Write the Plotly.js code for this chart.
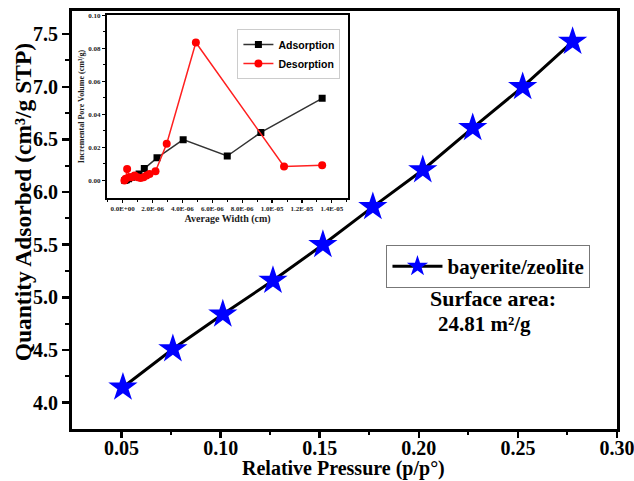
<!DOCTYPE html>
<html>
<head>
<meta charset="utf-8">
<script src="https://cdn.plot.ly/plotly-3.0.1.min.js"></script>
<style>html,body{margin:0;padding:0;background:#fff;}#chart{width:634px;height:481px;}</style>
</head>
<body>
<div id="chart"></div>
<script>
// Main BET data
const relPressure = [0.0507, 0.0759, 0.1011, 0.1264, 0.1516, 0.1768, 0.2020, 0.2272, 0.2524, 0.2776];
const qtyAdsorbed = [4.146, 4.51, 4.84, 5.16, 5.50, 5.86, 6.21, 6.61, 7.00, 7.43];
const mainSeriesName = 'bayerite/zeolite';
const mainXTicks = [0.05, 0.10, 0.15, 0.20, 0.25, 0.30];
const mainXTickText = ['0.05', '0.10', '0.15', '0.20', '0.25', '0.30'];
const mainYTicks = [4.0, 4.5, 5.0, 5.5, 6.0, 6.5, 7.0, 7.5];
const mainYTickText = ['4.0', '4.5', '5.0', '5.5', '6.0', '6.5', '7.0', '7.5'];

// Inset pore size distribution
const adsWidth = [0.15e-6, 0.25e-6, 0.4e-6, 0.6e-6, 0.9e-6, 1.1e-6, 1.45e-6, 2.3e-6, 4.05e-6, 7.0e-6, 9.25e-6, 13.35e-6];
const adsVolume = [0.000, 0.0005, 0.001, 0.002, 0.003, 0.004, 0.0072, 0.0137, 0.0247, 0.0148, 0.0291, 0.0497];
const desWidth = [0.12e-6, 0.2e-6, 0.3e-6, 0.45e-6, 0.6e-6, 0.8e-6, 1.0e-6, 1.2e-6, 1.4e-6, 1.6e-6, 1.8e-6, 2.2e-6, 2.95e-6, 4.9e-6, 10.8e-6, 13.35e-6];
const desVolume = [0.000, 0.001, 0.007, 0.002, 0.002, 0.003, 0.002, 0.0015, 0.002, 0.003, 0.004, 0.0056, 0.0222, 0.0835, 0.0085, 0.0092];

const insetXTickVals = [0, 2e-6, 4e-6, 6e-6, 8e-6, 1e-5, 1.2e-5, 1.4e-5];
const insetXTickText = ['0.0E+00', '2.0E-06', '4.0E-06', '6.0E-06', '8.0E-06', '1.0E-05', '1.2E-05', '1.4E-05'];
const insetYTickVals = [0, 0.02, 0.04, 0.06, 0.08, 0.10];
const insetYTickText = ['0.00', '0.02', '0.04', '0.06', '0.08', '0.10'];

const serif = 'Liberation Serif';
const sans = 'Liberation Sans';

const traces = [
  {
    x: relPressure, y: qtyAdsorbed, name: mainSeriesName, type: 'scatter', mode: 'lines+markers',
    line: {color: '#000', width: 3},
    marker: {symbol: 'star', size: 22, color: '#0000ff', line: {width: 0}},
    xaxis: 'x', yaxis: 'y', legend: 'legend'
  },
  {
    x: adsWidth, y: adsVolume, name: 'Adsorption', type: 'scatter', mode: 'lines+markers',
    line: {color: '#333', width: 1.5},
    marker: {symbol: 'square', size: 7, color: '#000'},
    xaxis: 'x2', yaxis: 'y2', legend: 'legend2'
  },
  {
    x: desWidth, y: desVolume, name: 'Desorption', type: 'scatter', mode: 'lines+markers',
    line: {color: '#ff2020', width: 1.5},
    marker: {symbol: 'circle', size: 8, color: '#ff0000'},
    xaxis: 'x2', yaxis: 'y2', legend: 'legend2'
  }
];

const layout = {
  width: 634, height: 481,
  margin: {l: 71.7, r: 16.7, t: 11, b: 52},
  paper_bgcolor: '#fff', plot_bgcolor: '#fff',
  font: {family: serif, color: '#000'},
  xaxis: {
    range: [0.025, 0.30], tickvals: mainXTicks, ticktext: mainXTickText,
    ticks: 'outside', ticklen: 6, tickwidth: 2.5, tickcolor: '#000',
    minor: {tickvals: [0.075, 0.125, 0.175, 0.225, 0.275], ticks: 'outside', ticklen: 3, tickwidth: 2, tickcolor: '#000'},
    showline: true, linewidth: 3, linecolor: '#000', mirror: true, showgrid: false, zeroline: false,
    ticklabeloverflow: 'allow', ticklabelstandoff: -7,
    tickfont: {family: serif, size: 20, weight: 'bold', color: '#000'}
  },
  yaxis: {
    range: [3.75, 7.72], tickvals: mainYTicks, ticktext: mainYTickText,
    ticks: 'outside', ticklen: 7, tickwidth: 2.5, tickcolor: '#000',
    minor: {tickvals: [4.25, 4.75, 5.25, 5.75, 6.25, 6.75, 7.25], ticks: 'outside', ticklen: 4, tickwidth: 2, tickcolor: '#000'},
    showline: true, linewidth: 3, linecolor: '#000', mirror: true, showgrid: false, zeroline: false,
    ticklabeloverflow: 'allow',
    tickfont: {family: serif, size: 20, weight: 'bold', color: '#000'}
  },
  xaxis2: {
    domain: [0.0641, 0.507], anchor: 'y2', range: [-1.05e-6, 1.51e-5],
    tickvals: insetXTickVals, ticktext: insetXTickText,
    ticks: 'outside', ticklen: 3, tickwidth: 1.2, tickcolor: '#000',
    minor: {dtick: 1e-6, ticks: 'outside', ticklen: 2, tickwidth: 1, tickcolor: '#000'},
    showline: true, linewidth: 2, linecolor: '#000', mirror: true, showgrid: false, zeroline: false,
    tickfont: {family: serif, size: 7, weight: 'bold', color: '#222'},
    title: {text: 'Average Width (cm)', font: {family: serif, size: 10, weight: 'bold', color: '#222'}, standoff: 3}
  },
  yaxis2: {
    domain: [0.553, 0.990], anchor: 'x2', range: [-0.0105, 0.10],
    tickvals: insetYTickVals, ticktext: insetYTickText,
    ticks: 'outside', ticklen: 3, tickwidth: 1.2, tickcolor: '#000',
    minor: {tickvals: [0.01, 0.03, 0.05, 0.07, 0.09], ticks: 'outside', ticklen: 2, tickwidth: 1, tickcolor: '#000'},
    showline: true, linewidth: 2, linecolor: '#000', mirror: true, showgrid: false, zeroline: false,
    tickfont: {family: serif, size: 7, weight: 'bold', color: '#222'},
    title: {text: 'Incremental Pore Volume (cm³/g)', font: {family: serif, size: 8, weight: 'bold', color: '#222'}, standoff: 2}
  },
  legend: {
    x: 0.577, y: 0.44, xanchor: 'left', yanchor: 'top',
    bgcolor: '#fff', bordercolor: '#777', borderwidth: 1,
    font: {family: serif, size: 21, weight: 'bold', color: '#000'},
    itemwidth: 50
  },
  legend2: {
    x: 0.3035, y: 0.957, xanchor: 'left', yanchor: 'top',
    bgcolor: '#fff', bordercolor: '#ccc', borderwidth: 1,
    font: {family: sans, size: 10.5, weight: 'bold', color: '#000'},
    tracegroupgap: 0, itemwidth: 30
  },
  annotations: [
    {text: 'Relative Pressure (p/p°)', xref: 'paper', yref: 'paper', x: 0.499, y: -0.0945, xanchor: 'center', yanchor: 'middle', showarrow: false,
     font: {family: serif, size: 20, weight: 'bold', color: '#000'}},
    {text: 'Quantity Adsorbed (cm³/g STP)', xref: 'paper', yref: 'paper', x: -0.0893, y: 0.543, xanchor: 'center', yanchor: 'middle', showarrow: false, textangle: -90,
     font: {family: serif, size: 23.5, weight: 'bold', color: '#000'}},
    {text: 'Surface area:', xref: 'paper', yref: 'paper', x: 0.772, y: 0.313, xanchor: 'center', yanchor: 'middle', showarrow: false,
     font: {family: serif, size: 22, weight: 'bold', color: '#000'}},
    {text: '24.81 m²/g', xref: 'paper', yref: 'paper', x: 0.757, y: 0.251, xanchor: 'center', yanchor: 'middle', showarrow: false,
     font: {family: serif, size: 21, weight: 'bold', color: '#000'}}
  ],
  showlegend: true
};

Plotly.newPlot('chart', traces, layout, {displayModeBar: false, staticPlot: true});
</script>
</body>
</html>
